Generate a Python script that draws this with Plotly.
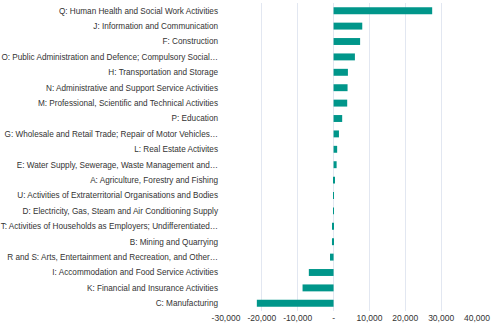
import plotly.graph_objects as go

categories = [
    "Q: Human Health and Social Work Activities",
    "J: Information and Communication",
    "F: Construction",
    "O: Public Administration and Defence; Compulsory Social…",
    "H: Transportation and Storage",
    "N: Administrative and Support Service Activities",
    "M: Professional, Scientific and Technical Activities",
    "P: Education",
    "G: Wholesale and Retail Trade; Repair of Motor Vehicles…",
    "L: Real Estate Activites",
    "E: Water Supply, Sewerage, Waste Management and…",
    "A: Agriculture, Forestry and Fishing",
    "U: Activities of Extraterritorial Organisations and Bodies",
    "D: Electricity, Gas, Steam and Air Conditioning Supply",
    "T: Activities of Households as Employers; Undifferentiated…",
    "B: Mining and Quarrying",
    "R and S: Arts, Entertainment and Recreation, and Other…",
    "I: Accommodation and Food Service Activities",
    "K: Financial and Insurance Activities",
    "C: Manufacturing",
]
values = [27500, 8000, 7400, 5950, 4000, 3900, 3800, 2400, 1500, 1000, 850, 350,
          10, -150, -200, -450, -1000, -6900, -8650, -21400]

tick_vals = [-30000, -20000, -10000, 0, 10000, 20000, 30000, 40000]
tick_text = ["-30,000", "-20,000", "-10,000", "-", "10,000", "20,000", "30,000", "40,000"]

fig = go.Figure(go.Bar(
    x=values, y=categories, orientation="h",
    marker=dict(color="#00968a", line=dict(width=0)),
))
fig.update_layout(
    width=500, height=334,
    margin=dict(l=226, r=23, t=3, b=23),
    plot_bgcolor="white", paper_bgcolor="white",
    bargap=0.55,
    showlegend=False,
    font=dict(family="Liberation Sans, Arial, sans-serif", size=8.2, color="#333333"),
)
fig.update_xaxes(
    range=[-30000, 40000], tickvals=tick_vals, ticktext=tick_text,
    showgrid=True, gridcolor="#e2e7f1", gridwidth=1.3,
    zeroline=False, showline=False, ticks="", ticklen=0,
    automargin=False,
    tickfont=dict(size=8.5, color="#333333"),
)
fig.update_yaxes(
    autorange="reversed", showgrid=False, zeroline=False, showline=False,
    ticks="", ticklabelstandoff=7, automargin=False,
    tickfont=dict(size=8.2, color="#333333"),
)
fig.write_html("out.html")
